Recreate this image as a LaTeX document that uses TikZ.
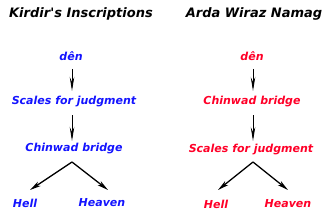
\documentclass[tikz,border=0pt]{standalone}
\usepackage{fontspec}
\setmainfont{DejaVu Sans}
\usetikzlibrary{arrows.meta}
\definecolor{myblue}{RGB}{20,20,255}
\definecolor{myred}{RGB}{255,0,40}
\begin{document}
\begin{tikzpicture}[x=1pt,y=-1pt,
  lbl/.style={font=\fontsize{11}{13}\selectfont\bfseries\itshape,inner sep=0pt},
  ttl/.style={font=\fontsize{13}{15}\selectfont\bfseries\itshape,inner sep=0pt,text=black},
  vline/.style={line width=0.8pt,-{Stealth[length=14pt,width=4.5pt,inset=5pt]}},
  bline/.style={line width=1.3pt,-{Stealth[length=11pt,width=5pt,inset=3pt]}}]
\useasboundingbox (0,0) rectangle (336,216);
% left column
\node[ttl] (lt) at (81,14) {Kirdir\textquotesingle s Inscriptions};
\node[lbl,text=myblue] (ld) at (71,56) {dên};
\node[lbl,text=myblue] (ls) at (74,102) {Scales for judgment};
\node[lbl,text=myblue] (lc) at (74,149) {Chinwad bridge};
\node[lbl,text=myblue] (lh) at (25,203) {Hell};
\node[lbl,text=myblue] (lv) at (102,203) {Heaven};
\coordinate (la1) at (72,69);
\coordinate (la2) at (72,91);
\coordinate (lb1) at (72,115);
\coordinate (lb2) at (72,141);
\coordinate (lap) at (72,162);
\coordinate (lle) at (30,190);
\coordinate (lre) at (108,190);
\draw[vline] (la1) -- (la2);
\draw[vline] (lb1) -- (lb2);
\draw[bline] (lap) -- (lle);
\draw[bline] (lap) -- (lre);
% right column
\node[ttl] (rt) at (254,14) {Arda Wiraz Namag};
\node[lbl,text=myred] (rd) at (252,56) {dên};
\node[lbl,text=myred] (rc) at (252,102) {Chinwad bridge};
\node[lbl,text=myred] (rs) at (251,150) {Scales for judgment};
\node[lbl,text=myred] (rh) at (216,204) {Hell};
\node[lbl,text=myred] (rv) at (288,204) {Heaven};
\coordinate (ra1) at (253,69);
\coordinate (ra2) at (253,91);
\coordinate (rb1) at (253,115);
\coordinate (rb2) at (253,141);
\coordinate (rap) at (253,162);
\coordinate (rle) at (218,190);
\coordinate (rre) at (288,190);
\draw[vline] (ra1) -- (ra2);
\draw[vline] (rb1) -- (rb2);
\draw[bline] (rap) -- (rle);
\draw[bline] (rap) -- (rre);
\end{tikzpicture}
\end{document}
